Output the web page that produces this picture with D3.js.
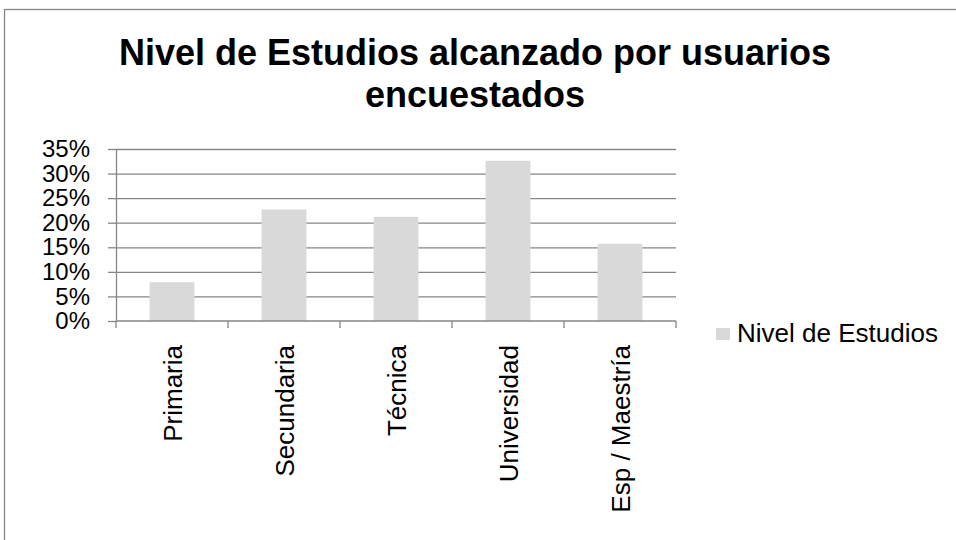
<!DOCTYPE html>
<html>
<head>
<meta charset="utf-8">
<script src="https://cdn.jsdelivr.net/npm/d3@7"></script>
<style>
    body { margin: 0; background: #fff; }
    svg { display: block; font-family: "Liberation Sans", Arial, sans-serif; }
    .axis path, .axis line { stroke: #868686; stroke-width: 1.3; }
    .grid line { stroke: #868686; stroke-width: 1.3; }
    .grid path { display: none; }
</style>
</head>
<body>
<svg id="chart" width="956" height="540"></svg>
<script>
// Chart data
const categories = ['Primaria', 'Secundaria', 'Técnica', 'Universidad', 'Esp / Maestría'];
const values = [0.079, 0.227, 0.212, 0.326, 0.157];
const yTicks = [0, 0.05, 0.10, 0.15, 0.20, 0.25, 0.30, 0.35];
const titleLines = ['Nivel de Estudios alcanzado por usuarios', 'encuestados'];
const seriesName = 'Nivel de Estudios';

const svg = d3.select('#chart');

// Outer chart frame
svg.append('rect')
    .attr('x', 4.5)
    .attr('y', 9.5)
    .attr('width', 1000)
    .attr('height', 600)
    .attr('fill', 'none')
    .attr('stroke', '#868686')
    .attr('stroke-width', 1.3);

// Plot area
const plot = { left: 116, right: 676, top: 149, bottom: 321 };

const x = d3.scaleBand()
    .domain(categories)
    .range([plot.left, plot.right])
    .paddingInner(0.6)
    .paddingOuter(0.3);

const xGroup = d3.scaleBand()
    .domain(categories)
    .range([plot.left, plot.right]);

const y = d3.scaleLinear()
    .domain([0, 0.35])
    .range([plot.bottom, plot.top]);

// Horizontal grid
svg.append('g')
    .attr('class', 'grid')
    .attr('transform', `translate(${plot.left},0)`)
    .call(d3.axisLeft(y)
        .tickValues(yTicks.slice(1))
        .tickSize(-(plot.right - plot.left))
        .tickFormat('')
    );

// Bars
svg.selectAll('.bar')
    .data(values)
    .enter()
    .append('rect')
    .attr('class', 'bar')
    .attr('x', (d, i) => x(categories[i]))
    .attr('y', d => y(d))
    .attr('width', x.bandwidth())
    .attr('height', d => y(0) - y(d))
    .attr('fill', '#d9d9d9');

// Y axis
const yAxis = svg.append('g')
    .attr('class', 'axis')
    .attr('transform', `translate(${plot.left},0)`)
    .call(d3.axisLeft(y)
        .tickValues(yTicks)
        .tickSize(8)
        .tickSizeOuter(0)
        .tickPadding(18)
        .tickFormat(d3.format('.0%'))
    );
yAxis.selectAll('text')
    .attr('font-size', '24px')
    .attr('fill', '#000')
    .attr('font-family', '"Liberation Sans", Arial, sans-serif');

// X axis with ticks at category boundaries
const xAxis = svg.append('g')
    .attr('class', 'axis')
    .attr('transform', `translate(0,${plot.bottom})`);

xAxis.append('line')
    .attr('x1', plot.left)
    .attr('x2', plot.right)
    .attr('y1', 0)
    .attr('y2', 0);

const boundaries = categories.map(c => xGroup(c)).concat([plot.right]);
xAxis.selectAll('.xtick')
    .data(boundaries)
    .enter()
    .append('line')
    .attr('class', 'xtick')
    .attr('x1', d => d)
    .attr('x2', d => d)
    .attr('y1', 0)
    .attr('y2', 7);

// Rotated category labels
xAxis.selectAll('.xlabel')
    .data(categories)
    .enter()
    .append('text')
    .attr('class', 'xlabel')
    .attr('transform', d => `translate(${xGroup(d) + xGroup.bandwidth() / 2},24) rotate(-90)`)
    .attr('text-anchor', 'end')
    .attr('dy', '0.38em')
    .attr('font-size', '26px')
    .attr('fill', '#000')
    .text(d => d);

// Title
svg.append('text')
    .attr('x', 475)
    .attr('y', 65)
    .attr('text-anchor', 'middle')
    .attr('font-size', '36px')
    .attr('font-weight', 'bold')
    .selectAll('tspan')
    .data(titleLines)
    .enter()
    .append('tspan')
    .attr('x', 475)
    .attr('dy', (d, i) => i === 0 ? 0 : '1.17em')
    .text(d => d);

// Legend
const legend = svg.append('g')
    .attr('transform', 'translate(716,328)');

legend.append('rect')
    .attr('width', 14)
    .attr('height', 12)
    .attr('fill', '#d9d9d9');

legend.append('text')
    .attr('x', 21)
    .attr('y', 14)
    .attr('font-size', '26px')
    .attr('fill', '#000')
    .text(seriesName);
</script>
</body>
</html>
